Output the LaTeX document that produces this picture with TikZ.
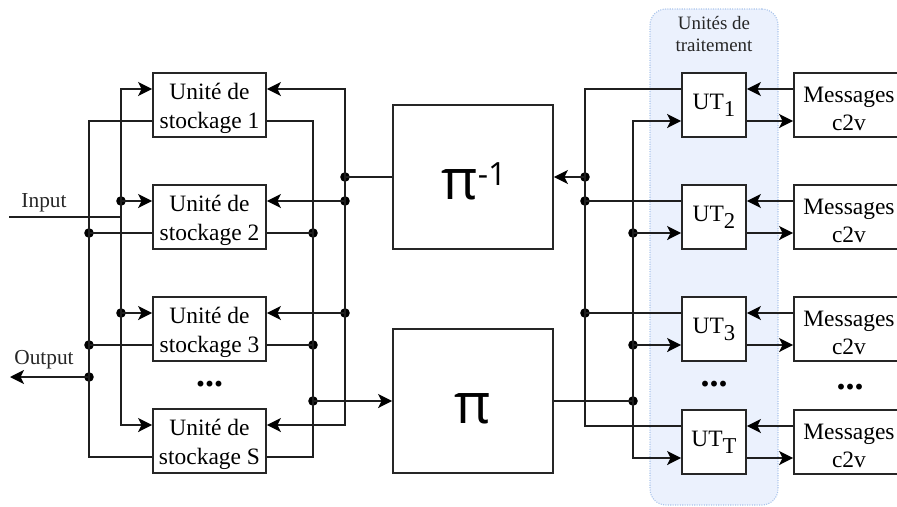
\documentclass[tikz,border=0pt]{standalone}
\usepackage{fontspec}
\setmainfont{Liberation Serif}
\newfontfamily\pifont{Open Sans}
\usetikzlibrary{arrows.meta,calc}
\definecolor{bandfill}{HTML}{EBF1FD}
\definecolor{bandline}{HTML}{A9C4EB}
\newcommand{\sbs}[1]{\raisebox{-0.3em}{\fontsize{17}{17}\selectfont #1}}
\newcommand{\twolines}[2]{\rule{0pt}{17.5pt}#1\\#2}
\tikzset{
  x=0.75pt,y=-0.75pt,
  wire/.style={line width=1.3pt,black!88,line join=miter},
  arr/.style={wire,-{Stealth[length=10.5pt,width=10.5pt,inset=2.6pt,black]}},
  unitbox/.style={draw=black!85,line width=1.3pt,fill=white,inner sep=0pt,align=center,font=\fontsize{17.6}{21.6}\selectfont},
  sto/.style={unitbox,minimum width=84.75pt,minimum height=48pt},
  ut/.style={unitbox,minimum width=48pt,minimum height=48pt},
  msg/.style={unitbox,minimum width=82.5pt,minimum height=48pt},
  perm/.style={unitbox,minimum width=120pt,minimum height=108pt},
  pitext/.style={inner sep=0pt,font=\pifont\fontsize{42}{42}\selectfont},
  jn/.style={circle,fill=black,inner sep=0pt,minimum size=7.2pt},
  lbl/.style={inner sep=0pt,align=center,black!85,font=\fontsize{16}{19}\selectfont},
  dots/.style={inner sep=0pt,anchor=base,font=\bfseries\fontsize{27}{27}\selectfont},
}
\begin{document}
\begin{tikzpicture}
\useasboundingbox (0,0) rectangle (897,507);
\clip (0,0) rectangle (897,507);
% band
\node[draw=bandline,densely dotted,line width=0.8pt,fill=bandfill,rounded corners=12pt,minimum width=96pt,minimum height=372pt,inner sep=0pt] (band) at (714,257) {};
\node[lbl,font=\fontsize{14.2}{16.5}\selectfont] (bandlabel) at (714,34) {Unités de\\traitement};
% storage
\node[sto] (s1) at (209.5,105) {\twolines{Unité de}{stockage 1}};
\node[sto] (s2) at (209.5,217) {\twolines{Unité de}{stockage 2}};
\node[sto] (s3) at (209.5,329) {\twolines{Unité de}{stockage 3}};
\node[sto] (s4) at (209.5,441) {\twolines{Unité de}{stockage S}};
% permuters
\node[perm] (pinv) at (473,177) {};
\node[perm] (pi) at (473,401) {};
\node[pitext] (pinvtext) at (474,185) {π\smash{\raisebox{11pt}{\fontsize{24}{24}\selectfont -1}}};
\node[pitext] (pitext) at (473,409) {π};
% processing units
\node[ut] (u1) at (714,105) {UT\sbs{1}};
\node[ut] (u2) at (714,217) {UT\sbs{2}};
\node[ut] (u3) at (714,329) {UT\sbs{3}};
\node[ut] (u4) at (714,442) {UT\sbs{T}};
% messages
\node[msg] (m1) at (849,105) {\twolines{Messages}{c2v}};
\node[msg] (m2) at (849,217) {\twolines{Messages}{c2v}};
\node[msg] (m3) at (849,329) {\twolines{Messages}{c2v}};
\node[msg] (m4) at (849,442) {\twolines{Messages}{c2v}};
% ellipses
\node[dots] (e1) at (209.5,386) {...};
\node[dots] (e2) at (714,386) {...};
\node[dots] (e3) at (850,389) {...};
% text
\node[lbl] (inlabel) at (44,203) {Input};
\node[lbl] (outlabel) at (44,360) {Output};
% junctions: left input bus
\node[jn] (a2) at (121,201) {};
\node[jn] (a3) at (121,313) {};
% left output bus
\node[jn] (b2) at (89,233) {};
\node[jn] (b3) at (89,345) {};
\node[jn] (b5) at (89,377) {};
% right of storage
\node[jn] (c0) at (345,177) {};
\node[jn] (c2) at (345,201) {};
\node[jn] (c3) at (345,313) {};
\node[jn] (d2) at (313,233) {};
\node[jn] (d3) at (313,345) {};
\node[jn] (d5) at (313,401) {};
% right of permuters
\node[jn] (f0) at (585,177) {};
\node[jn] (f2) at (585,201) {};
\node[jn] (f3) at (585,313) {};
\node[jn] (g2) at (633,233) {};
\node[jn] (g3) at (633,345) {};
\node[jn] (g5) at (633,401) {};
% free ends and corners
\coordinate (inStart) at (9,217);
\coordinate (inHit) at (121,217);
\coordinate (outEnd) at (10,377);
\coordinate (a1) at (121,89);
\coordinate (a4) at (121,425);
\coordinate (b1) at (89,121);
\coordinate (b4) at (89,457);
\coordinate (c1) at (345,89);
\coordinate (c4) at (345,425);
\coordinate (d1) at (313,121);
\coordinate (d4) at (313,457);
\coordinate (f1) at (585,89);
\coordinate (f4) at (585,426);
\coordinate (g1) at (633,121);
\coordinate (g4) at (633,458);
% buses
\draw[wire,line cap=rect] (a1) -- (a4);
\draw[wire,line cap=rect] (b1) -- (b4);
\draw[wire,line cap=rect] (c1) -- (c4);
\draw[wire,line cap=rect] (d1) -- (d4);
\draw[wire,line cap=rect] (f1) -- (f4);
\draw[wire,line cap=rect] (g1) -- (g4);
% input / output
\draw[wire] (inStart) -- (inHit);
\draw[arr] (b5.center) -- (outEnd);
% storage left side
\draw[arr] (a1) -- (a1 -| s1.west);
\draw[arr] (a2.center) -- (a2 -| s2.west);
\draw[arr] (a3.center) -- (a3 -| s3.west);
\draw[arr] (a4) -- (a4 -| s4.west);
\draw[wire] (b1 -| s1.west) -- (b1);
\draw[wire] (b2 -| s2.west) -- (b2.center);
\draw[wire] (b3 -| s3.west) -- (b3.center);
\draw[wire] (b4 -| s4.west) -- (b4);
% storage right side
\draw[arr] (c1) -- (c1 -| s1.east);
\draw[arr] (c2.center) -- (c2 -| s2.east);
\draw[arr] (c3.center) -- (c3 -| s3.east);
\draw[arr] (c4) -- (c4 -| s4.east);
\draw[wire] (d1 -| s1.east) -- (d1);
\draw[wire] (d2 -| s2.east) -- (d2.center);
\draw[wire] (d3 -| s3.east) -- (d3.center);
\draw[wire] (d4 -| s4.east) -- (d4);
% permuters
\draw[wire] (pinv.west |- c0) -- (c0.center);
\draw[arr] (d5.center) -- (d5 -| pi.west);
\draw[arr] (f0.center) -- (f0 -| pinv.east);
\draw[wire] (g5 -| pi.east) -- (g5.center);
% processing side
\draw[wire] (f1) -- (f1 -| u1.west);
\draw[wire] (f2.center) -- (f2 -| u2.west);
\draw[wire] (f3.center) -- (f3 -| u3.west);
\draw[wire] (f4) -- (f4 -| u4.west);
\draw[arr] (g1) -- (g1 -| u1.west);
\draw[arr] (g2.center) -- (g2 -| u2.west);
\draw[arr] (g3.center) -- (g3 -| u3.west);
\draw[arr] (g4) -- (g4 -| u4.west);
% messages
\draw[arr] (m1.west |- f1) -- (u1.east |- f1);
\draw[arr] (m2.west |- f2) -- (u2.east |- f2);
\draw[arr] (m3.west |- f3) -- (u3.east |- f3);
\draw[arr] (m4.west |- f4) -- (u4.east |- f4);
\draw[arr] (u1.east |- g1) -- (m1.west |- g1);
\draw[arr] (u2.east |- g2) -- (m2.west |- g2);
\draw[arr] (u3.east |- g3) -- (m3.west |- g3);
\draw[arr] (u4.east |- g4) -- (m4.west |- g4);
\end{tikzpicture}
\end{document}
